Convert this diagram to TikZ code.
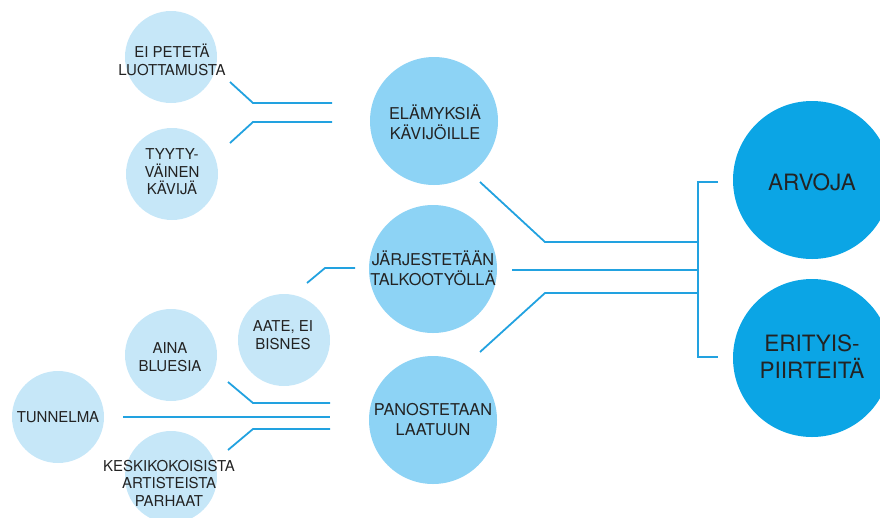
\documentclass[tikz,border=0pt]{standalone}
\usepackage{fontspec}
\setmainfont{TeX Gyre Heros}
\definecolor{cSmall}{HTML}{C6E7F8}
\definecolor{cMid}{HTML}{8DD3F5}
\definecolor{cBig}{HTML}{0BA5E5}
\definecolor{cLine}{HTML}{22A2E0}
\definecolor{cText}{HTML}{232323}
\tikzset{
  smallc/.style={circle, fill=cSmall, minimum size=92pt, inner sep=0pt},
  midc/.style={circle, fill=cMid, minimum size=128pt, inner sep=0pt},
  bigc/.style={circle, fill=cBig, minimum size=158pt, inner sep=0pt},
  stxt/.style={align=center, font=\fontsize{15}{17.5}\selectfont, text=cText, inner sep=0pt},
  mtxt/.style={align=center, font=\fontsize{16.3}{20}\selectfont, text=cText, inner sep=0pt},
  btxt/.style={align=center, font=\fontsize{22.5}{27}\selectfont, text=cText, inner sep=0pt},
  conn/.style={draw=cLine, line width=1.8pt}
}
\begin{document}
\begin{tikzpicture}[x=1pt,y=-1pt]
\useasboundingbox (0,0) rectangle (880,517);
\clip (0,0) rectangle (880,517);
% circles
\node[smallc] (s1) at (171,57) {};
\node[smallc] (s2) at (172,174) {};
\node[smallc] (s3) at (284,340) {};
\node[smallc] (s4) at (171,355) {};
\node[smallc] (s5) at (58,417) {};
\node[smallc] (s6) at (171,477) {};
\node[midc] (m1) at (434,121) {};
\node[midc] (m2) at (433,269) {};
\node[midc] (m3) at (433,420) {};
\node[bigc] (b1) at (812,180) {};
\node[bigc] (b2) at (812,358) {};
% texts
\node[stxt] (t1) at (172,60) {EI PETETÄ\\LUOTTAMUSTA};
\node[stxt] (t2) at (172,172) {TYYTY-\\VÄINEN\\KÄVIJÄ};
\node[stxt] (t3) at (283,335) {AATE, EI\\BISNES};
\node[stxt] (t4) at (170,357) {AINA\\BLUESIA};
\node[stxt] (t5) at (58,417) {TUNNELMA};
\node[stxt] (t6) at (169,483) {KESKIKOKOISISTA\\ARTISTEISTA\\PARHAAT};
\node[mtxt] (u1) at (435,122) {ELÄMYKSIÄ\\KÄVIJÖILLE};
\node[mtxt] (u2) at (433,268) {JÄRJESTETÄÄN\\TALKOOTYÖLLÄ};
\node[mtxt] (u3) at (433,420) {PANOSTETAAN\\LAATUUN};
\node[btxt] (v1) at (812,182) {ARVOJA};
\node[btxt] (v2) at (812,357) {ERITYIS-\\PIIRTEITÄ};
% connector end points
\coordinate (p1a) at (230,82);  \coordinate (p1b) at (253,103); \coordinate (p1c) at (332,103);
\coordinate (p2a) at (230,143); \coordinate (p2b) at (253,122); \coordinate (p2c) at (332,122);
\coordinate (q1a) at (480,182); \coordinate (q1b) at (545,242); \coordinate (q1c) at (698,242);
\coordinate (q2a) at (512,270); \coordinate (q2c) at (698,270);
\coordinate (q3a) at (480,352); \coordinate (q3b) at (545,293); \coordinate (q3c) at (698,293);
\coordinate (ka) at (718,182); \coordinate (kb) at (698,182); \coordinate (kc) at (698,357); \coordinate (kd) at (718,357);
\coordinate (r1a) at (307,283); \coordinate (r1b) at (325,268); \coordinate (r1c) at (355,268);
\coordinate (w1a) at (228,382); \coordinate (w1b) at (253,403); \coordinate (w1c) at (330,403);
\coordinate (w2a) at (123,417); \coordinate (w2c) at (330,417);
\coordinate (w3a) at (228,450); \coordinate (w3b) at (253,429); \coordinate (w3c) at (330,429);
% connectors
\draw[conn] (p1a) -- (p1b) -- (p1c);
\draw[conn] (p2a) -- (p2b) -- (p2c);
\draw[conn] (q1a) -- (q1b) -- (q1c);
\draw[conn] (q2a) -- (q2c);
\draw[conn] (q3a) -- (q3b) -- (q3c);
\draw[conn] (ka) -- (kb) -- (kc) -- (kd);
\draw[conn] (r1a) -- (r1b) -- (r1c);
\draw[conn] (w1a) -- (w1b) -- (w1c);
\draw[conn] (w2a) -- (w2c);
\draw[conn] (w3a) -- (w3b) -- (w3c);
\end{tikzpicture}
\end{document}
